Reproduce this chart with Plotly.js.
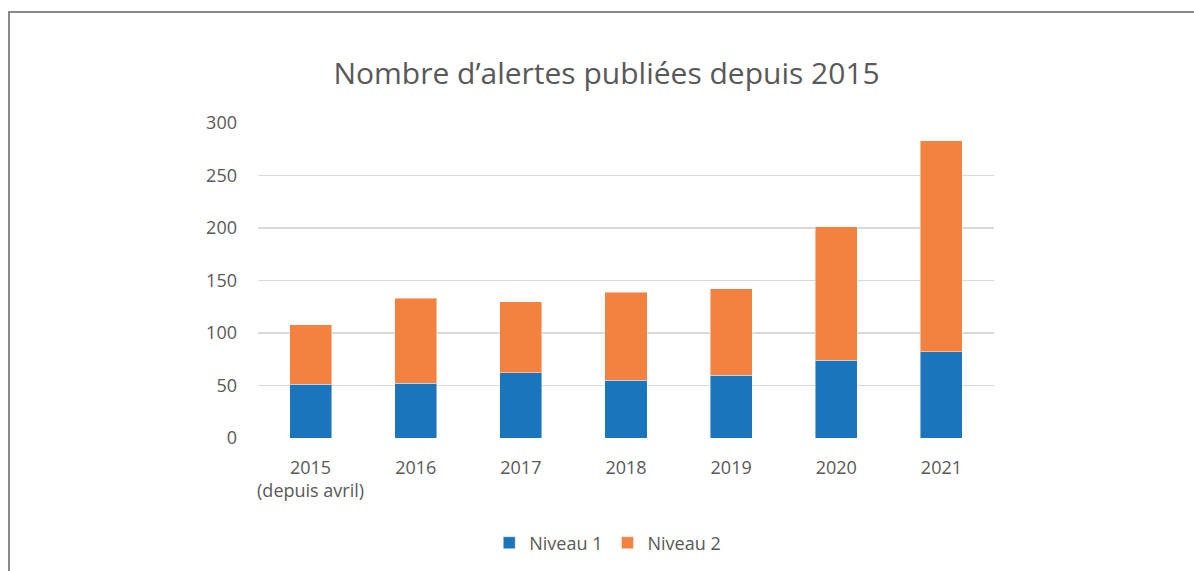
<!DOCTYPE html>
<html>
<head>
<meta charset="utf-8">
<script src="https://cdn.plot.ly/plotly-3.0.1.min.js"></script>
<style>
html,body{margin:0;padding:0;background:#fff;overflow:hidden;}
#frame{position:absolute;left:8px;top:11px;width:1400px;height:800px;border-top:2px solid #8a8a8a;border-left:2px solid #8a8a8a;pointer-events:none;z-index:5;}
#chart{position:absolute;left:0;top:0;width:1194px;height:571px;}
</style>
</head>
<body>
<div id="chart"></div>
<div id="frame"></div>
<script>
const categories = ["2015<br>(depuis avril)", "2016", "2017", "2018", "2019", "2020", "2021"];
const niveau1 = [51, 52, 62, 55, 60, 74, 82];
const niveau2 = [57, 81, 68, 84, 82, 127, 201];
const yTicks = [0, 50, 100, 150, 200, 250, 300];

const textColor = "#595959";
const font = "'Open Sans', 'Liberation Sans', sans-serif";

const data = [
  {type: "bar", name: "Niveau 1", x: categories, y: niveau1,
   marker: {color: "#1b75bc", line: {color: "rgba(255,255,255,0.45)", width: 1}}},
  {type: "bar", name: "Niveau 2", x: categories, y: niveau2,
   marker: {color: "#f3813f", line: {color: "rgba(255,255,255,0.45)", width: 1}}}
];

const layout = {
  width: 1194, height: 571,
  barmode: "stack",
  bargap: 0.6,
  paper_bgcolor: "rgba(0,0,0,0)",
  plot_bgcolor: "#fff",
  margin: {l: 258, r: 200, t: 123, b: 133, autoexpand: false},
  font: {family: font, color: textColor, size: 18},
  title: {text: "Nombre d’alertes publiées depuis 2015", x: 0.508, xanchor: "center",
          y: 0.872, yanchor: "middle",
          font: {family: font, size: 30, color: textColor}},
  xaxis: {type: "category", showgrid: false, zeroline: false, showline: false, automargin: false,
          ticks: "", ticklabelstandoff: 17, tickfont: {size: 18, color: textColor}},
  yaxis: {range: [0, 300], tickvals: yTicks, ticktext: yTicks.map(String), automargin: false,
          showgrid: true, gridcolor: "#d9d9d9", gridwidth: 1.5, zeroline: false,
          showline: false, ticks: "", ticklabelstandoff: 20,
          tickfont: {size: 18, color: textColor}},
  showlegend: true,
  legend: {orientation: "h", xref: "container", yref: "container",
           x: 0.509, xanchor: "center", y: 0.049, yanchor: "middle",
           font: {size: 18, color: textColor}, traceorder: "normal",
           itemwidth: 30}
};

Plotly.newPlot("chart", data, layout, {displayModeBar: false, staticPlot: true});
</script>
</body>
</html>
